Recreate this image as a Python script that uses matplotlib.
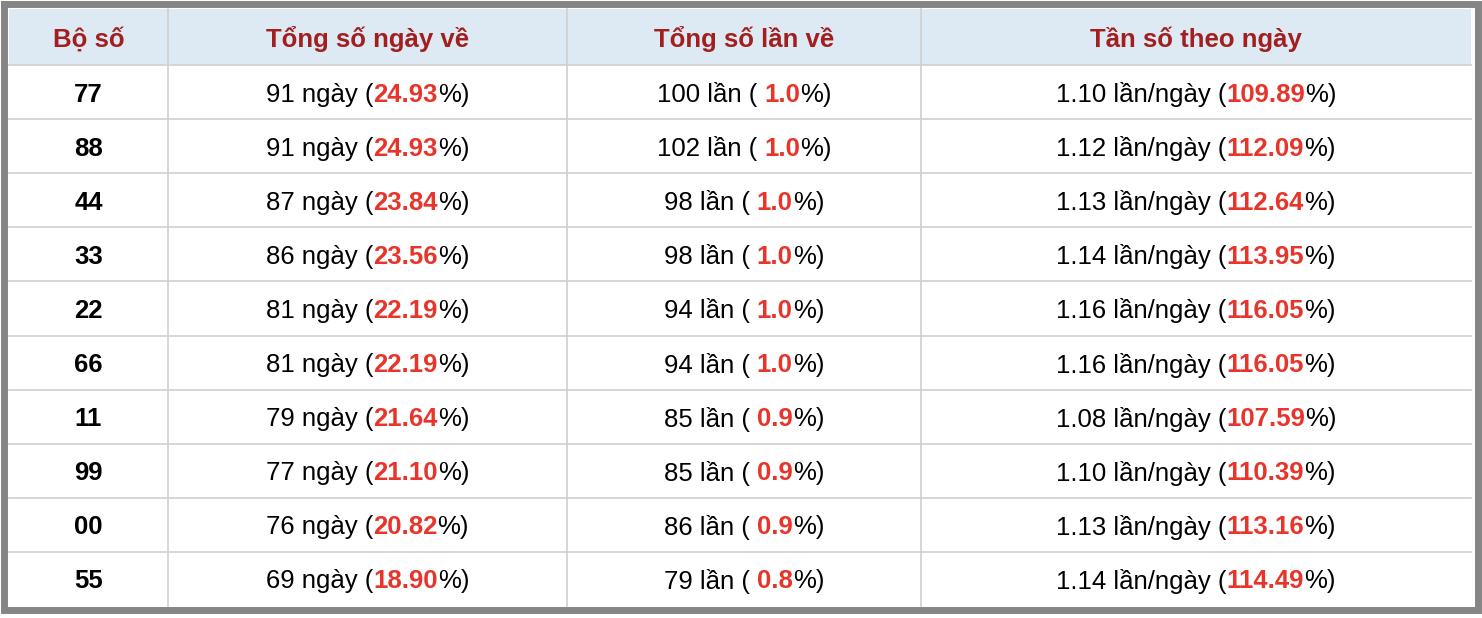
import matplotlib
matplotlib.use("Agg")
import matplotlib.pyplot as plt
from matplotlib.patches import Rectangle

headers = ["Bộ số", "Tổng số ngày về", "Tổng số lần về", "Tần số theo ngày"]
numbers = ["77", "88", "44", "33", "22", "66", "11", "99", "00", "55"]
days = [91, 91, 87, 86, 81, 81, 79, 77, 76, 69]
days_pct = ["24.93", "24.93", "23.84", "23.56", "22.19", "22.19", "21.64", "21.10", "20.82", "18.90"]
times = [100, 102, 98, 98, 94, 94, 85, 85, 86, 79]
times_pct = ["1.0", "1.0", "1.0", "1.0", "1.0", "1.0", "0.9", "0.9", "0.9", "0.8"]
per_day = ["1.10", "1.12", "1.13", "1.14", "1.16", "1.16", "1.08", "1.10", "1.13", "1.14"]
per_day_pct = ["109.89", "112.09", "112.64", "113.95", "116.05", "116.05", "107.59", "110.39", "113.16", "114.49"]

plt.rcParams['font.family'] = ['Liberation Sans', 'DejaVu Sans']
FAM = ['Liberation Sans', 'DejaVu Sans']
W, H = 1482, 618
fig = plt.figure(figsize=(W/100, H/100), dpi=100)
ax = fig.add_axes([0, 0, 1, 1])
ax.set_xlim(0, W); ax.set_ylim(H, 0); ax.axis("off")

RED = "#e8352b"; HDR = "#a31f1f"; FS = 18.5
col_x = [9, 168, 567, 921, 1471]
top, hdr_h, row_h = 9, 56, 54.1
ax.add_patch(Rectangle((4, 4), W-8, H-12, facecolor="white", edgecolor="#858585", lw=5))
ax.add_patch(Rectangle((col_x[0], top), col_x[-1]-col_x[0], hdr_h, facecolor="#dde9f3", edgecolor="none"))
n = len(numbers)
bottom = top + hdr_h + n*row_h
for x in col_x[1:-1]:
    ax.plot([x, x], [top, bottom], color="#cfcfcf", lw=1.2)
for i in range(n):
    y = top + hdr_h + i*row_h
    ax.plot([col_x[0], col_x[-1]], [y, y], color="#cfcfcf", lw=1.2)

r = fig.canvas.get_renderer()
def raw_w(s, bold):
    t = ax.text(0, 0, s, fontsize=FS, family=FAM, fontweight="bold" if bold else "normal")
    w = t.get_window_extent(r).width
    t.remove()
    return w
SPACE = raw_w("a a", False) - raw_w("aa", False)
def width(s, bold):
    st = s.rstrip(" ")
    return raw_w(st, bold) + SPACE*(len(s)-len(st))

def seg_text(cx, cy, segs):
    ws = [width(s, b) for s, c, b in segs]
    x = cx - sum(ws)/2
    for (s, c, b), w in zip(segs, ws):
        ax.text(x, cy, s, fontsize=FS, family=FAM, color=c, fontweight="bold" if b else "normal",
                ha="left", va="center_baseline")
        x += w

for j, h in enumerate(headers):
    ax.text((col_x[j]+col_x[j+1])/2, top+hdr_h/2, h, fontsize=FS, family=FAM, color=HDR,
            fontweight="bold", ha="center", va="center_baseline")

for i in range(n):
    cy = top + hdr_h + (i+0.5)*row_h
    cs = [(col_x[j]+col_x[j+1])/2 for j in range(4)]
    ax.text(cs[0], cy, numbers[i], fontsize=FS, family=FAM, fontweight="bold", ha="center",
            va="center_baseline", color="black")
    seg_text(cs[1], cy, [(f"{days[i]} ngày (", "black", False), (days_pct[i], RED, True), ("%)", "black", False)])
    seg_text(cs[2], cy, [(f"{times[i]} lần ( ", "black", False), (times_pct[i], RED, True), ("%)", "black", False)])
    seg_text(cs[3], cy, [(f"{per_day[i]} lần/ngày (", "black", False), (per_day_pct[i], RED, True), ("%)", "black", False)])

fig.savefig("out.png", dpi=100)
